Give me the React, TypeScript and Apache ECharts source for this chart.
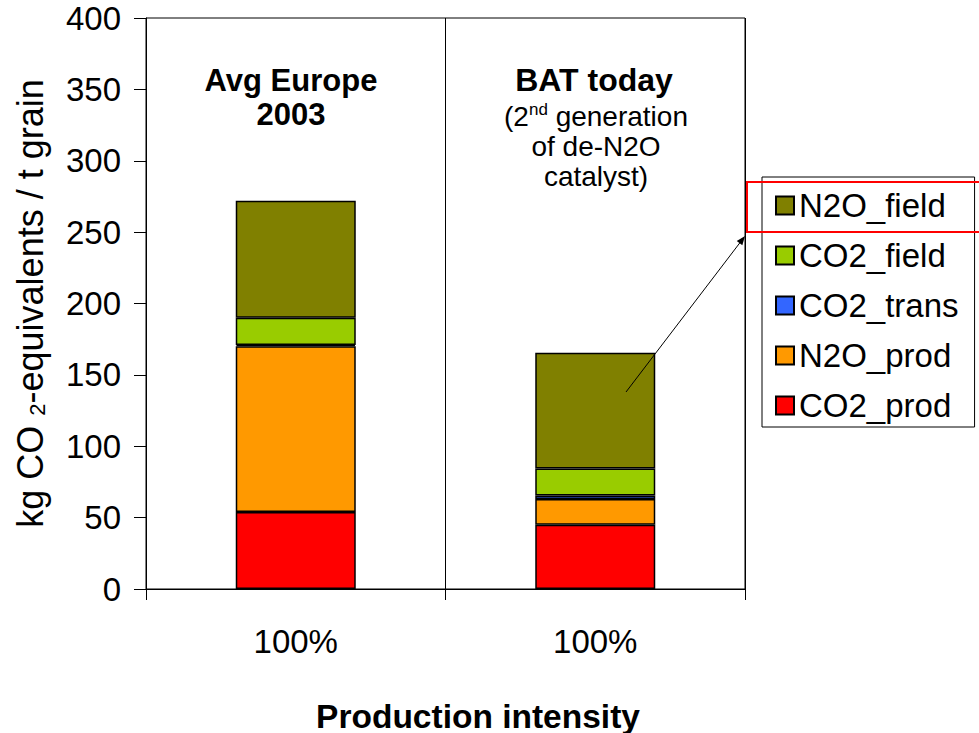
import React, { useEffect, useRef } from "react";
import * as echarts from "echarts";

// Two production scenarios, shown on a category axis
const categories = ["Avg Europe 2003", "BAT today"];
const tickLabels = ["100%", "100%"];

// Stacked emission components (kg CO2-eq per t grain), bottom to top
const co2Prod = [54, 45];
const n2oProd = [116, 18];
const co2Trans = [1, 2.5];
const co2Field = [19, 19];
const n2oField = [82, 81];

const seriesNames = ["CO2_prod", "N2O_prod", "CO2_trans", "CO2_field", "N2O_field"];
const seriesValues = [co2Prod, n2oProd, co2Trans, co2Field, n2oField];
const seriesColors = ["#FF0000", "#FF9900", "#3366FF", "#99CC00", "#808000"];

const yMin = 0;
const yMax = 400;
const yStep = 50;

const FONT = "'Liberation Sans', Arial, Helvetica, sans-serif";

function arrowHead(x1: number, y1: number, x2: number, y2: number, len: number, half: number) {
  const dx = x2 - x1;
  const dy = y2 - y1;
  const d = Math.sqrt(dx * dx + dy * dy);
  const ux = dx / d;
  const uy = dy / d;
  const bx = x2 - ux * len;
  const by = y2 - uy * len;
  return [
    [x2, y2],
    [bx - uy * half, by + ux * half],
    [bx + uy * half, by - ux * half],
  ];
}

function boldLabel(text: string, x: number, y: number, size: number) {
  return {
    type: "text",
    x,
    y,
    z: 10,
    style: {
      text,
      textAlign: "center",
      textVerticalAlign: "middle",
      font: `bold ${size}px ${FONT}`,
      fill: "#000",
    },
  };
}

export default function App() {
  const ref = useRef<HTMLDivElement>(null);

  useEffect(() => {
    if (!ref.current) return;
    const chart = echarts.init(ref.current, undefined, { renderer: "svg" });

    const arrowFrom = [626, 392];
    const arrowTo = [745, 236];

    chart.setOption({
      animation: false,
      backgroundColor: "#ffffff",
      textStyle: { fontFamily: FONT },
      grid: {
        left: 146,
        right: 234,
        top: 18,
        bottom: 144,
        show: true,
        borderColor: "#000",
        borderWidth: 1,
        backgroundColor: "transparent",
      },
      legend: {
        orient: "vertical",
        left: 762,
        top: 177,
        data: [...seriesNames].reverse(),
        icon: "rect",
        itemWidth: 18,
        itemHeight: 18,
        itemGap: 17,
        padding: [12, 16, 5, 13],
        borderColor: "#000",
        borderWidth: 1,
        backgroundColor: "#fff",
        selectedMode: false,
        textStyle: { fontSize: 33, color: "#000", fontFamily: FONT },
      },
      xAxis: {
        type: "category",
        data: categories,
        boundaryGap: true,
        axisLine: { show: true, lineStyle: { color: "#000", width: 1 } },
        axisTick: { show: true, length: 11, lineStyle: { color: "#000" } },
        axisLabel: {
          margin: 36,
          fontSize: 33,
          color: "#000",
          fontFamily: FONT,
          formatter: (_v: string, i: number) => tickLabels[i],
        },
        splitLine: { show: true, lineStyle: { color: "#000", width: 1 } },
      },
      yAxis: {
        type: "value",
        min: yMin,
        max: yMax,
        interval: yStep,
        name: "kg CO {sub|2}-equivalents / t grain",
        nameLocation: "middle",
        nameRotate: 90,
        nameGap: 98,
        nameTextStyle: {
          fontSize: 36,
          color: "#000",
          fontFamily: FONT,
          rich: {
            sub: { fontSize: 22, color: "#000", fontFamily: FONT, verticalAlign: "bottom" },
          },
        },
        axisLine: { show: true, lineStyle: { color: "#000", width: 1 } },
        axisTick: { show: true, inside: false, length: 12, lineStyle: { color: "#000" } },
        axisLabel: { margin: 25, fontSize: 33, color: "#000", fontFamily: FONT },
        splitLine: { show: false },
      },
      series: seriesNames.map((name, i) => ({
        name,
        type: "bar",
        stack: "total",
        barWidth: 120,
        data: seriesValues[i],
        itemStyle: { color: seriesColors[i], borderColor: "#000", borderWidth: 1.5 },
        emphasis: { disabled: true },
      })),
      graphic: [
        boldLabel("Avg Europe", 291, 80, 31),
        boldLabel("2003", 291, 114, 31),
        boldLabel("BAT today", 594, 80, 32),
        {
          type: "text",
          x: 596,
          y: 146,
          z: 10,
          style: {
            text: "(2{sup|nd} generation\nof de-N2O\ncatalyst)",
            textAlign: "center",
            textVerticalAlign: "middle",
            font: `28px ${FONT}`,
            lineHeight: 30,
            fill: "#000",
            rich: {
              sup: { fontSize: 17, fontFamily: FONT, fill: "#000", verticalAlign: "top", lineHeight: 30 },
            },
          },
        },
        boldLabel("Production intensity", 478, 716, 33.5),
        {
          type: "line",
          z: 20,
          shape: { x1: arrowFrom[0], y1: arrowFrom[1], x2: arrowTo[0] - 3, y2: arrowTo[1] + 4 },
          style: { stroke: "#000", lineWidth: 1 },
        },
        {
          type: "polygon",
          z: 20,
          shape: { points: arrowHead(arrowFrom[0], arrowFrom[1], arrowTo[0], arrowTo[1], 9, 3.5) },
          style: { fill: "#000" },
        },
        {
          type: "rect",
          z: 30,
          shape: { x: 747, y: 182, width: 240, height: 50 },
          style: { fill: "none", stroke: "#FF0000", lineWidth: 2 },
        },
      ],
    });

    return () => chart.dispose();
  }, []);

  return (
    <div
      ref={ref}
      style={{ position: "absolute", left: 0, top: 0, width: 979, height: 733, background: "#fff" }}
    />
  );
}
